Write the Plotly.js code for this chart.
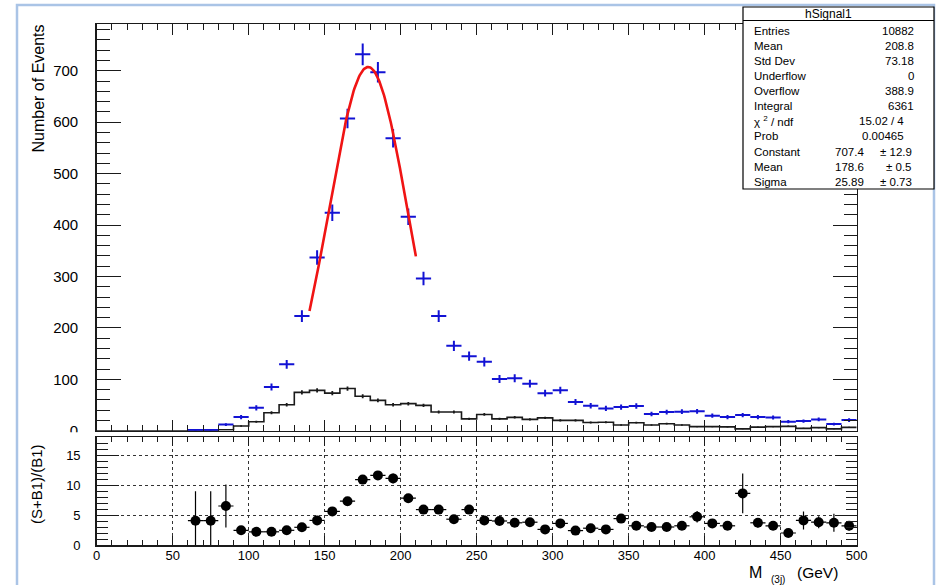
<!DOCTYPE html>
<html>
<head>
<meta charset="utf-8">
<script src="https://cdn.plot.ly/plotly-3.0.1.min.js"></script>
<style>
  html, body { margin: 0; padding: 0; background: #fff; }
  #plot { width: 940px; height: 585px; }
</style>
</head>
<body>
<div id="plot"></div>
<script>
// Bin centres of the 10 GeV wide M(3j) bins, 0..500 GeV
const binCenters = [5, 15, 25, 35, 45, 55, 65, 75, 85, 95,
  105, 115, 125, 135, 145, 155, 165, 175, 185, 195,
  205, 215, 225, 235, 245, 255, 265, 275, 285, 295,
  305, 315, 325, 335, 345, 355, 365, 375, 385, 395,
  405, 415, 425, 435, 445, 455, 465, 475, 485, 495];
const binEdges = [0, 10, 20, 30, 40, 50, 60, 70, 80, 90,
  100, 110, 120, 130, 140, 150, 160, 170, 180, 190,
  200, 210, 220, 230, 240, 250, 260, 270, 280, 290,
  300, 310, 320, 330, 340, 350, 360, 370, 380, 390,
  400, 410, 420, 430, 440, 450, 460, 470, 480, 490, 500];

// hSignal1 (signal + background, blue)
const signalCounts = [null, null, null, null, null, null, 1.5, 1.5, 12, 26.5,
  44.5, 85, 129, 223, 337, 424, 607, 732, 697, 569,
  416, 296, 223, 165, 145, 134, 100.5, 102, 91.5, 73,
  78.5, 56, 48.7, 43.4, 46, 48, 32.4, 36.3, 37, 37.6,
  29.2, 26.5, 30.4, 26.5, 25.9, 17.5, 18.7, 22, 12.9, 20.6];
const signalErrors = [null, null, null, null, null, null, 1.5, 1.5, 2.7, 4,
  5, 7, 8.7, 11.5, 14, 16, 19, 21, 20, 18,
  16, 13, 11.5, 10, 9, 9, 7.7, 7.8, 7.4, 6.6,
  6.8, 5.8, 5.4, 5, 5.2, 5.3, 4.4, 4.6, 4.7, 4.7,
  4.2, 4, 4.2, 4, 3.9, 3.2, 3.3, 3.6, 2.8, 3.5];

// B1 background (black)
const backgroundCounts = [0, 0, 0, 0, 0, 0, 0.4, 0.4, 1.8, 9,
  17.5, 35, 50.6, 74.6, 78.5, 73, 82, 67, 59, 50.6,
  52.6, 49.3, 36.3, 36.3, 23, 31.6, 23, 26, 22, 25,
  20, 20, 16, 16.5, 11, 15.6, 11, 13.6, 11, 8,
  8, 7.5, 3.5, 7, 8, 8.5, 4.6, 6, 3.5, 6.4];
const backgroundErrors = [null, null, null, null, null, null, 0.3, 0.3, 0.6, 1.4,
  2, 2.8, 3.3, 4, 4.2, 4, 4.2, 3.8, 3.6, 3.3,
  3.4, 3.3, 2.8, 2.8, 2.3, 2.6, 2.3, 2.4, 2.2, 2.3,
  2.1, 2.1, 1.9, 1.9, 1.6, 1.8, 1.5, 1.7, 1.5, 1.3,
  1.3, 1.3, 0.9, 1.2, 1.3, 1.4, 1, 1.2, 0.9, 1.2];

// (S+B1)/(B1) ratio
const ratioValues = [null, null, null, null, null, null, 4.05, 4.05, 6.5, 2.45,
  2.2, 2.2, 2.45, 2.95, 4.1, 5.6, 7.3, 10.9, 11.6, 11.1,
  7.8, 5.9, 5.9, 4.3, 5.9, 4.1, 4.0, 3.7, 3.8, 2.6,
  3.6, 2.4, 2.8, 2.6, 4.4, 3.2, 3.0, 3.0, 3.2, 4.7,
  3.6, 3.2, 8.6, 3.7, 3.2, 2.0, 4.1, 3.8, 3.7, 3.2];
const ratioErrors = [null, null, null, null, null, null, 4.9, 4.9, 3.6, 0.4,
  0.35, 0.3, 0.3, 0.3, 0.35, 0.4, 0.5, 0.7, 0.75, 0.8,
  0.5, 0.45, 0.5, 0.4, 0.6, 0.4, 0.45, 0.4, 0.45, 0.35,
  0.45, 0.35, 0.4, 0.4, 0.7, 0.45, 0.45, 0.45, 0.5, 0.95,
  0.6, 0.55, 3.3, 0.8, 0.6, 0.4, 1.5, 1.0, 1.5, 0.8];

// Gaussian fit result and fit range
const fitConstant = 707.4;
const fitMean = 178.6;
const fitSigma = 25.89;
const fitRange = [140, 210];

// Statistics box
const statTitle = 'hSignal1';
const statNames = ['Entries', 'Mean', 'Std Dev', 'Underflow', 'Overflow', 'Integral',
  'χ <sup>2</sup> / ndf', 'Prob', 'Constant', 'Mean', 'Sigma'];
const statValues = ['10882', '208.8', '73.18', '0', '388.9', '6361',
  '15.02 / 4', '0.00465', '707.4', '178.6', '25.89'];
const statErrors = ['', '', '', '', '', '', '', '', '± 12.9', '± 0.5', '± 0.73'];

// ---- helpers: pixel -> paper coordinates
const W = 940, H = 585;
const fx = x => x / W;
const fy = y => 1 - y / H;

const FONT = '"Liberation Sans", Arial, Helvetica, sans-serif';
const INK = '#1a1a1a';
const BLUE = '#1212d4';
const RED = '#f01414';

const halfBin = binCenters.map(() => 5);

// Step outline of the background histogram
const stepX = binEdges.slice();
const stepY = backgroundCounts.concat([backgroundCounts[backgroundCounts.length - 1]]);

// Fit curve sampled across its range
const fitX = [], fitY = [];
for (let i = 0; i <= 140; i++) {
  const x = fitRange[0] + (fitRange[1] - fitRange[0]) * i / 140;
  fitX.push(x);
  fitY.push(fitConstant * Math.exp(-0.5 * Math.pow((x - fitMean) / fitSigma, 2)));
}

const bgX = [], bgY = [], bgE = [];
binCenters.forEach((c, i) => {
  if (backgroundErrors[i] !== null) { bgX.push(c); bgY.push(backgroundCounts[i]); bgE.push(backgroundErrors[i]); }
});

const traces = [
  {
    x: stepX, y: stepY, xaxis: 'x', yaxis: 'y',
    type: 'scatter', mode: 'lines', line: { shape: 'hv', color: INK, width: 1.6 },
    hoverinfo: 'skip'
  },
  {
    x: bgX, y: bgY, xaxis: 'x', yaxis: 'y', type: 'scatter', mode: 'markers',
    marker: { size: 1, color: 'rgba(0,0,0,0)' },
    error_y: { type: 'data', array: bgE, visible: true, color: INK, thickness: 1.8, width: 0 }
  },
  {
    x: binCenters, y: signalCounts, xaxis: 'x', yaxis: 'y', type: 'scatter', mode: 'markers',
    marker: { size: 1, color: 'rgba(0,0,0,0)' },
    error_y: { type: 'data', array: signalErrors, visible: true, color: BLUE, thickness: 2, width: 0 },
    error_x: { type: 'data', array: halfBin, visible: true, color: BLUE, thickness: 2, width: 0 }
  },
  {
    x: fitX, y: fitY, xaxis: 'x', yaxis: 'y', type: 'scatter', mode: 'lines',
    line: { color: RED, width: 2.6 }, hoverinfo: 'skip'
  },
  {
    x: binCenters, y: ratioValues, xaxis: 'x2', yaxis: 'y2', type: 'scatter', mode: 'markers',
    marker: { size: 10, color: '#000' },
    error_y: { type: 'data', array: ratioErrors, visible: true, color: '#000', thickness: 1.2, width: 0 },
    error_x: { type: 'data', array: halfBin, visible: true, color: '#000', thickness: 1.2, width: 0 }
  }
];

const axisCommon = {
  showline: true, linecolor: INK, linewidth: 1.5, mirror: 'ticks',
  ticks: 'inside', tickcolor: INK, tickwidth: 1, zeroline: false,
  tickfont: { family: FONT, size: 13, color: '#000' }
};

const layout = {
  width: W, height: H,
  margin: { l: 0, r: 0, t: 0, b: 0 },
  paper_bgcolor: '#fff', plot_bgcolor: '#fff',
  showlegend: false,
  font: { family: FONT, color: INK },
  xaxis: Object.assign({}, axisCommon, {
    domain: [fx(96.7), fx(856.7)], anchor: 'y', range: [0, 500],
    tick0: 0, dtick: 50, ticklen: 11, showticklabels: false, showgrid: false,
    minor: { dtick: 10, ticklen: 6, ticks: 'inside', tickcolor: INK, tickwidth: 1, showgrid: false }
  }),
  yaxis: Object.assign({}, axisCommon, {
    domain: [fy(430.7), fy(24)], anchor: 'x', range: [0, 791],
    tick0: 0, dtick: 100, ticklen: 24, showgrid: false,
    tickfont: { family: FONT, size: 15, color: '#000' }, ticklabelstandoff: 14,
    minor: { dtick: 20, ticklen: 13, ticks: 'inside', tickcolor: INK, tickwidth: 1, showgrid: false }
  }),
  xaxis2: Object.assign({}, axisCommon, {
    domain: [fx(96.7), fx(856.7)], anchor: 'y2', range: [0, 500],
    tick0: 0, dtick: 50, ticklen: 9, ticklabelstandoff: -2,
    showgrid: true, gridcolor: '#333', griddash: 'dot', gridwidth: 1,
    minor: { dtick: 10, ticklen: 5, ticks: 'inside', tickcolor: INK, tickwidth: 1, showgrid: false }
  }),
  yaxis2: Object.assign({}, axisCommon, {
    domain: [fy(545), fy(437)], anchor: 'x2', range: [0, 18],
    tick0: 0, dtick: 5, ticklen: 22, ticklabelstandoff: 12,
    showgrid: true, gridcolor: '#333', griddash: 'dot', gridwidth: 1,
    minor: { dtick: 1, ticklen: 11, ticks: 'inside', tickcolor: INK, tickwidth: 1, showgrid: false }
  }),
  shapes: [
    // canvas border
    { type: 'rect', xref: 'paper', yref: 'paper', x0: fx(17), x1: fx(934), y0: -0.2, y1: fy(5),
      line: { color: '#aac4e6', width: 2.5 }, fillcolor: 'rgba(0,0,0,0)', layer: 'above' },
    // the lower pad hides most of the upper pad's zero label
    { type: 'rect', xref: 'paper', yref: 'paper', x0: fx(40), x1: fx(94), y0: fy(447), y1: fy(432.3),
      line: { width: 0 }, fillcolor: '#fff', layer: 'above' },
    // statistics box
    { type: 'rect', xref: 'paper', yref: 'paper', x0: fx(743), x1: fx(934), y0: fy(189), y1: fy(7),
      line: { color: '#000', width: 1.2 }, fillcolor: '#fff', layer: 'above' },
    { type: 'line', xref: 'paper', yref: 'paper', x0: fx(743), x1: fx(934), y0: fy(20.5), y1: fy(20.5),
      line: { color: '#000', width: 1.2 }, layer: 'above' }
  ],
  annotations: []
};

const ann = layout.annotations;
function addText(text, x, y, size, xanchor, extra) {
  ann.push(Object.assign({
    text: text, xref: 'paper', yref: 'paper', x: fx(x), y: fy(y),
    xanchor: xanchor, yanchor: 'middle', showarrow: false,
    font: { family: FONT, size: size, color: '#000' }
  }, extra || {}));
}

// axis titles
addText('Number of Events', 38, 88.5, 16, 'center', { textangle: -90 });
addText('(S+B1)/(B1)', 37, 484, 15, 'center', { textangle: -90 });
addText('M', 755, 572, 16, 'center');
addText('(3j)', 778, 579, 10, 'center');
addText('(GeV)', 817.5, 572, 15.5, 'center');

// statistics box text
addText(statTitle, 828, 14, 12, 'center');
statNames.forEach((name, i) => {
  const y = 31 + i * 15.07;
  addText(name, 752, y, 11.5, 'left');
  let vx = 916;
  if (i === 6 || i === 7) vx = 906;
  if (statErrors[i]) vx = 866;
  addText(statValues[i], vx, y, 11.5, 'right');
  if (statErrors[i]) addText(statErrors[i], 914, y, 11.5, 'right');
});

Plotly.newPlot('plot', traces, layout, { staticPlot: true, displayModeBar: false });
</script>
</body>
</html>
